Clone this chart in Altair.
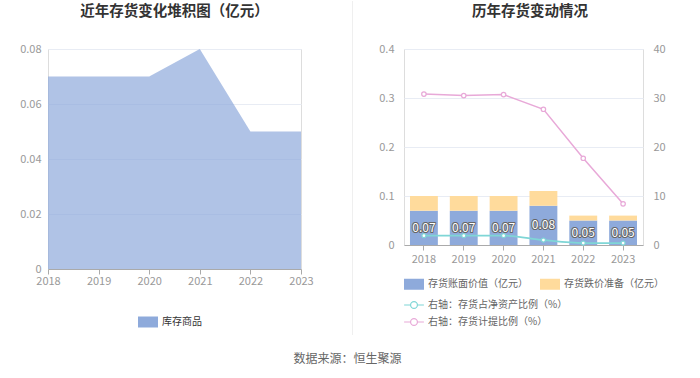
import altair as alt
import pandas as pd

FONT = "Noto Sans CJK SC"

years = ["2018", "2019", "2020", "2021", "2022", "2023"]
inventory_goods = [0.07, 0.07, 0.07, 0.08, 0.05, 0.05]
book_value = [0.07, 0.07, 0.07, 0.08, 0.05, 0.05]
impairment = [0.03, 0.03, 0.03, 0.03, 0.01, 0.01]
ratio_net_assets = [1.9, 1.9, 1.9, 1.0, 0.4, 0.4]
provision_ratio = [30.8, 30.5, 30.7, 27.7, 17.7, 8.4]

area_name = "库存商品"
bar_names = ["存货账面价值（亿元）", "存货跌价准备（亿元）"]
line_names = ["右轴：存货占净资产比例（%）", "右轴：存货计提比例（%）"]
left_title = "近年存货变化堆积图（亿元）"
right_title = "历年存货变动情况"
source_text = "数据来源：恒生聚源"

left_df = pd.DataFrame({"year": years, "value": inventory_goods, "series": area_name})

bar_rows = []
for i, y in enumerate(years):
    bar_rows.append({"year": y, "series": bar_names[0], "value": book_value[i], "ord": 0})
    bar_rows.append({"year": y, "series": bar_names[1], "value": impairment[i], "ord": 1})
bar_df = pd.DataFrame(bar_rows)
label_df = pd.DataFrame({"year": years, "value": book_value})

line_rows = []
for i, y in enumerate(years):
    line_rows.append({"year": y, "series": line_names[0], "value": ratio_net_assets[i]})
    line_rows.append({"year": y, "series": line_names[1], "value": provision_ratio[i]})
line_df = pd.DataFrame(line_rows)

GRID = "#e8ecf4"
LABEL = "#999999"
AX_FS = 11
LEG_FS = 10
RECT = "M-1,-0.55H1V0.55H-1Z"
LINESYM = ("M-1.1,0H-0.38 M0.38,0H1.1 M0.38,0A0.38,0.38 0 1,1 -0.38,0A0.38,0.38 0 1,1 0.38,0")

# ---------------- left panel ----------------
lx = alt.X("year:O", scale=alt.Scale(type="point", padding=0),
           axis=alt.Axis(title=None, labelAngle=0, labelColor=LABEL, labelFontSize=AX_FS,
                         labelFont=FONT, domainColor="#aaaaaa", tickColor="#aaaaaa",
                         tickSize=5, labelPadding=1, grid=False))
area = alt.Chart(left_df).mark_area(opacity=0.7).encode(
    x=lx,
    y=alt.Y("value:Q", scale=alt.Scale(domain=[0, 0.08]),
            axis=alt.Axis(title=None, values=[0, 0.02, 0.04, 0.06, 0.08], format="~g",
                          labelColor=LABEL, labelFontSize=AX_FS, labelFont=FONT,
                          domain=False, ticks=False, labelPadding=7,
                          gridColor=GRID)),
    color=alt.Color("series:N", scale=alt.Scale(domain=[area_name], range=["#8eaadb"]),
                    legend=alt.Legend(title=None, orient="none", legendX=90, legendY=263,
                                      symbolType=RECT, symbolSize=400, symbolOpacity=1,
                                      labelFont=FONT, labelFontSize=LEG_FS, labelColor="#333333",
                                      symbolStrokeWidth=0)),
)
divider = alt.Chart(left_df).mark_rule(color="#efefef", strokeWidth=1).encode(
    x=alt.value(304.5), y=alt.value(-48), y2=alt.value(286)
)
ltitle = alt.Chart(pd.DataFrame({"t": [left_title]})).mark_text(
    fontSize=14.5, fontWeight="bold", color="#333333", font=FONT, baseline="middle"
).encode(text="t:N", x=alt.value(126.5), y=alt.value(-37))
left = alt.layer(area, divider, ltitle).properties(width=253, height=220)

# ---------------- right panel ----------------
rx = alt.X("year:N", scale=alt.Scale(paddingInner=0.3, paddingOuter=0.15),
           axis=alt.Axis(title=None, labelAngle=0, labelColor=LABEL, labelFontSize=AX_FS,
                         labelFont=FONT, domainColor="#aaaaaa", tickColor="#aaaaaa",
                         tickSize=5, labelPadding=3, grid=False))
yleft = alt.Y("value:Q", scale=alt.Scale(domain=[0, 0.4]),
              axis=alt.Axis(title=None, values=[0, 0.1, 0.2, 0.3, 0.4], format="~g",
                            labelColor=LABEL, labelFontSize=AX_FS, labelFont=FONT,
                            domain=False, ticks=False, labelPadding=10, gridColor=GRID))
bars = alt.Chart(bar_df).mark_bar().encode(
    x=rx,
    y=yleft,
    order=alt.Order("ord:Q", sort="ascending"),
    color=alt.Color("series:N", scale=alt.Scale(domain=bar_names, range=["#8eaadb", "#ffdb9c"]),
                    legend=alt.Legend(title=None, orient="none", legendX=0, legendY=225,
                                      columns=2, columnPadding=12, symbolType=RECT,
                                      symbolSize=400, symbolStrokeWidth=0,
                                      labelFont=FONT, labelFontSize=LEG_FS, labelColor="#666666")),
)
lbl_base = alt.Chart(label_df).transform_calculate(mid="datum.value / 2").encode(
    x=alt.X("year:N"),
    y=alt.Y("mid:Q"),
    text=alt.Text("value:Q", format=".2f"),
)
lbl_outline = lbl_base.mark_text(fontSize=12, font=FONT, fill="white", stroke="#666666",
                                 strokeWidth=2, strokeJoin="round")
lbl_text = lbl_base.mark_text(fontSize=12, font=FONT, fill="white")
rtitle = alt.Chart(pd.DataFrame({"t": [right_title]})).mark_text(
    fontSize=14.5, fontWeight="bold", color="#333333", font=FONT, baseline="middle"
).encode(text="t:N", x=alt.value(126), y=alt.value(-37))

bar_layer = alt.layer(bars, lbl_outline, lbl_text, rtitle)

stroke_scale = alt.Scale(domain=line_names, range=["#7fd6d6", "#e8a9d8"])
line_legend = alt.Legend(title=None, orient="none", legendX=0, legendY=246,
                         direction="vertical", rowPadding=1, symbolType=LINESYM,
                         symbolSize=324, symbolStrokeWidth=1.2, symbolFillColor="white",
                         labelFont=FONT, labelFontSize=LEG_FS, labelColor="#666666")
yright = alt.Y("value:Q", scale=alt.Scale(domain=[0, 40]),
               axis=alt.Axis(title=None, orient="right", values=[0, 10, 20, 30, 40],
                             labelColor=LABEL, labelFontSize=AX_FS, labelFont=FONT,
                             domain=False, ticks=False, grid=False, labelPadding=10))
teal = alt.Chart(line_df).transform_filter(
    alt.datum.series == line_names[0]
).mark_line(interpolate="monotone", strokeWidth=1.8,
            point=alt.OverlayMarkDef(filled=True, fill="white", size=16, strokeWidth=1.2,
                                     stroke="#7fd6d6")).encode(
    x=alt.X("year:N"), y=yright,
    stroke=alt.Stroke("series:N", scale=stroke_scale, legend=line_legend),
)
pink = alt.Chart(line_df).transform_filter(
    alt.datum.series == line_names[1]
).mark_line(strokeWidth=1.5,
            point=alt.OverlayMarkDef(filled=True, fill="white", size=20, strokeWidth=1.2,
                                     stroke="#e8a9d8")).encode(
    x=alt.X("year:N"), y=yright,
    stroke=alt.Stroke("series:N", scale=stroke_scale, legend=line_legend),
)
line_layer = alt.layer(teal, pink)

right = alt.layer(bar_layer, line_layer).resolve_scale(y="independent").properties(
    width=239, height=196,
)

chart = alt.hconcat(left, right, spacing=103, bounds="flush").resolve_scale(
    color="independent", stroke="independent"
).resolve_legend(color="independent", stroke="independent").properties(
    title=alt.TitleParams(source_text, orient="bottom", anchor="middle",
                          fontSize=12, fontWeight="normal", color="#666666", font=FONT,
                          offset=18, dx=5),
    padding={"left": 19, "top": 0, "right": 5, "bottom": 5},
).configure_view(stroke=None).configure(font=FONT)

chart.save("out.html", embed_options={"renderer": "svg", "actions": False})
